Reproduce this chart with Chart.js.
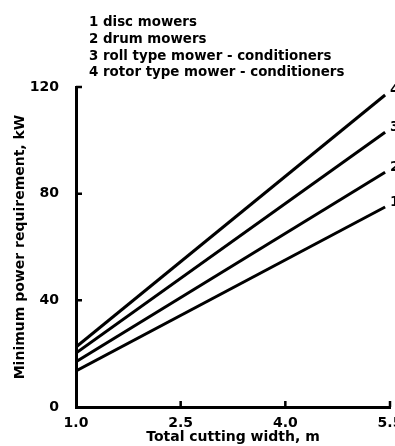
<!DOCTYPE html>
<html>
<head>
<meta charset="utf-8">
<title>Mower power requirement</title>
<script src="https://cdn.jsdelivr.net/npm/chart.js@4.4.0/dist/chart.umd.min.js"></script>
<style>
  html, body { margin: 0; padding: 0; background: #fff; }
  #wrap { width: 395px; height: 446px; }
</style>
</head>
<body>
<div id="wrap"><canvas id="myChart" width="395" height="446"></canvas></div>
<script>
// cutting width (m) at both ends of each line
var widths = [1.0, 5.43];

// minimum power (kW) for each mower type
var discMowers = [13.5, 75];
var drumMowers = [17, 88];
var rollConditioners = [20.2, 103];
var rotorConditioners = [22.5, 117];

var typeNames = [
  "disc mowers",
  "drum mowers",
  "roll type mower - conditioners",
  "rotor type mower - conditioners"
];

var xTicks = [1.0, 2.5, 4.0, 5.5];
var yTicks = [0, 40, 80, 120];

var ink = "#000";
var face = "'DejaVu Sans', sans-serif";

function toPoints(values) {
  return values.map(function (v, i) {
    return { x: widths[i], y: v };
  });
}

var allSeries = [discMowers, drumMowers, rollConditioners, rotorConditioners];

var datasets = allSeries.map(function (values, i) {
  return {
    label: (i + 1) + " " + typeNames[i],
    data: toPoints(values),
    borderColor: ink,
    borderWidth: 3,
    pointRadius: 0,
    fill: false,
    tension: 0
  };
});

// key list above the plot
var keyText = {
  id: "keyText",
  afterDraw: function (chart) {
    var ctx = chart.ctx;
    ctx.save();
    ctx.fillStyle = ink;
    ctx.font = "bold 13.4px " + face;
    ctx.textBaseline = "middle";
    ctx.textAlign = "left";
    chart.data.datasets.forEach(function (ds, i) {
      ctx.fillText(ds.label, 89, 23 + i * 16.6);
    });
    ctx.restore();
  }
};

// tick marks point into the plot
var innerTicks = {
  id: "innerTicks",
  afterDraw: function (chart) {
    var ctx = chart.ctx;
    var x = chart.scales.x, y = chart.scales.y;
    var area = chart.chartArea;
    ctx.save();
    ctx.strokeStyle = ink;
    ctx.lineWidth = 2.5;
    ctx.beginPath();
    y.ticks.forEach(function (t) {
      if (t.value === 0) return;
      var py = y.getPixelForValue(t.value);
      ctx.moveTo(area.left, py);
      ctx.lineTo(area.left + 6, py);
    });
    x.ticks.forEach(function (t) {
      if (t.value === 1) return;
      var px = x.getPixelForValue(t.value);
      ctx.moveTo(px, area.bottom);
      ctx.lineTo(px, area.bottom - 6);
    });
    ctx.stroke();
    ctx.restore();
  }
};

// curve numbers at the right-hand end of each line
var lineNumbers = {
  id: "lineNumbers",
  afterDatasetsDraw: function (chart) {
    var ctx = chart.ctx;
    ctx.save();
    ctx.fillStyle = ink;
    ctx.font = "bold 14px " + face;
    ctx.textBaseline = "middle";
    ctx.textAlign = "left";
    chart.data.datasets.forEach(function (ds, i) {
      var pts = chart.getDatasetMeta(i).data;
      var last = pts[pts.length - 1];
      ctx.fillText(String(i + 1), last.x + 5, last.y - 5);
    });
    ctx.restore();
  }
};

var tickFont = { family: face, size: 14, weight: "bold" };

new Chart(document.getElementById("myChart"), {
  type: "line",
  data: { datasets: datasets },
  options: {
    responsive: false,
    animation: false,
    layout: { padding: { top: 87, right: 5, left: 0, bottom: 0 } },
    plugins: {
      legend: { display: false },
      tooltip: { enabled: false }
    },
    scales: {
      x: {
        type: "linear",
        min: xTicks[0],
        max: xTicks[xTicks.length - 1],
        afterBuildTicks: function (scale) {
          scale.ticks = xTicks.map(function (v) { return { value: v }; });
        },
        afterFit: function (scale) {
          scale.height = 39;
          scale.paddingRight = 0;
        },
        grid: { display: false, drawTicks: false },
        border: { display: true, color: ink, width: 3 },
        ticks: {
          color: ink,
          font: tickFont,
          padding: 8,
          maxRotation: 0,
          callback: function (v) { return Number(v).toFixed(1); }
        },
        title: {
          display: true,
          text: "Total cutting width, m",
          color: ink,
          font: tickFont,
          padding: { top: 0, bottom: 0 }
        }
      },
      y: {
        min: yTicks[0],
        max: yTicks[yTicks.length - 1],
        afterBuildTicks: function (scale) {
          scale.ticks = yTicks.map(function (v) { return { value: v }; });
        },
        afterFit: function (scale) {
          scale.width = 76;
        },
        grid: { display: false, drawTicks: false },
        border: { display: true, color: ink, width: 3 },
        ticks: {
          color: ink,
          font: tickFont,
          padding: 17
        },
        title: {
          display: true,
          text: "Minimum power requirement, kW",
          color: ink,
          font: tickFont,
          padding: { top: 12, bottom: 0 }
        }
      }
    }
  },
  plugins: [keyText, innerTicks, lineNumbers]
});
</script>
</body>
</html>
